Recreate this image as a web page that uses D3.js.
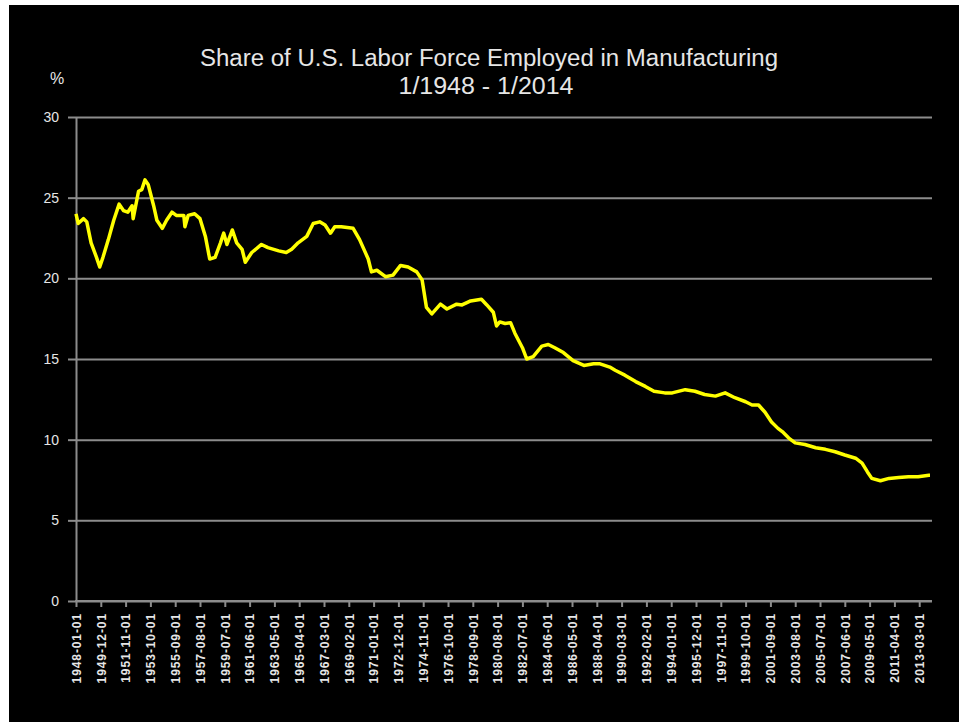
<!DOCTYPE html>
<html>
<head>
<meta charset="utf-8">
<script src="https://cdn.jsdelivr.net/npm/d3@7"></script>
<style>
  html, body { margin: 0; padding: 0; background: #ffffff; }
  svg { display: block; }
</style>
</head>
<body>
<script>
'use strict';

// months (yyyy-mm)
const months = [
  '1948-01','1948-03','1948-08','1948-11','1949-03','1949-08','1949-11','1950-02','1950-07','1950-12',
  '1951-05','1951-09','1952-01','1952-05','1952-06','1952-11','1953-02','1953-05','1953-08','1954-01',
  '1954-04','1954-09','1955-01','1955-06','1955-10','1956-05','1956-06','1956-09','1957-03','1957-08',
  '1958-01','1958-05','1958-10','1959-03','1959-06','1959-09','1960-02','1960-06','1960-11','1961-02',
  '1961-08','1962-05','1962-11','1963-09','1964-04','1964-09','1965-03','1965-11','1966-05','1966-11',
  '1967-04','1967-09','1968-01','1968-07','1969-06','1969-12','1970-08','1970-11','1971-04','1971-12',
  '1972-07','1973-02','1973-09','1974-05','1974-10','1975-02','1975-07','1976-03','1976-09','1977-06',
  '1977-11','1978-07','1979-05','1979-10','1980-04','1980-07','1980-10','1981-03','1981-08','1981-12',
  '1982-07','1982-11','1983-05','1984-01','1984-07','1985-01','1985-09','1986-06','1987-04','1988-01',
  '1988-07','1989-04','1989-09','1990-06','1991-04','1992-01','1992-09','1993-07','1994-02','1995-02',
  '1995-11','1996-08','1997-06','1998-03','1998-12','1999-10','2000-04','2000-10','2001-04','2001-10',
  '2002-04','2002-08','2003-02','2003-08','2004-05','2005-03','2005-12','2006-09','2007-06','2008-04',
  '2008-10','2009-03','2009-07','2010-03','2010-11','2011-08','2012-05','2013-02','2013-12','2014-01'
];

// share of labor force in manufacturing, %
const sharePct = [
  24.0, 23.4, 23.7, 23.5, 22.2, 21.3, 20.7, 21.3, 22.4, 23.6,
  24.6, 24.2, 24.1, 24.5, 23.7, 25.4, 25.5, 26.1, 25.8, 24.5,
  23.6, 23.1, 23.6, 24.1, 23.9, 23.9, 23.2, 23.9, 24.0, 23.7,
  22.6, 21.2, 21.3, 22.2, 22.8, 22.1, 23.0, 22.2, 21.8, 21.0,
  21.6, 22.1, 21.9, 21.7, 21.6, 21.8, 22.2, 22.6, 23.4, 23.5,
  23.3, 22.8, 23.2, 23.2, 23.1, 22.4, 21.2, 20.4, 20.5, 20.1,
  20.2, 20.8, 20.7, 20.4, 19.9, 18.2, 17.8, 18.4, 18.1, 18.4,
  18.35, 18.6, 18.7, 18.35, 17.9, 17.05, 17.3, 17.2, 17.25, 16.6,
  15.7, 15.0, 15.15, 15.8, 15.9, 15.7, 15.4, 14.9, 14.6, 14.7,
  14.7, 14.5, 14.3, 14.0, 13.6, 13.3, 13.0, 12.9, 12.9, 13.1,
  13.0, 12.8, 12.7, 12.9, 12.6, 12.35, 12.15, 12.15, 11.7, 11.1,
  10.7, 10.5, 10.1, 9.8, 9.7, 9.5, 9.4, 9.25, 9.05, 8.85,
  8.55, 8.0, 7.6, 7.45, 7.6, 7.65, 7.7, 7.7, 7.8, 7.8
];

const yTicks = [0, 5, 10, 15, 20, 25, 30];

const xTickLabels = [
  '1948-01-01','1949-12-01','1951-11-01','1953-10-01','1955-09-01','1957-08-01','1959-07-01',
  '1961-06-01','1963-05-01','1965-04-01','1967-03-01','1969-02-01','1971-01-01','1972-12-01',
  '1974-11-01','1976-10-01','1978-09-01','1980-08-01','1982-07-01','1984-06-01','1986-05-01',
  '1988-04-01','1990-03-01','1992-02-01','1994-01-01','1995-12-01','1997-11-01','1999-10-01',
  '2001-09-01','2003-08-01','2005-07-01','2007-06-01','2009-05-01','2011-04-01','2013-03-01'
];

const titleLines = ['Share of U.S. Labor Force Employed in Manufacturing', '1/1948 - 1/2014'];

(function() {

  let svgContainer = '';

  const msm = {
    width: 959,
    height: 722,
    plotLeft: 76,
    plotRight: 932,
    plotTop: 117,
    plotBottom: 601
  };

  const gridColor = '#8c8c8c';
  const textColor = '#e6e6e6';
  const font = "'Liberation Sans', Arial, sans-serif";

  // month count since 1948-01
  function monthIndex(s) {
    let parts = s.split('-');
    return (+parts[0] - 1948) * 12 + (+parts[1] - 1);
  }

  window.onload = function() {
    svgContainer = d3.select('body')
      .append('svg')
      .attr('width', msm.width)
      .attr('height', msm.height);

    // black panel (thin white margin on left/top like the screenshot)
    svgContainer.append('rect')
      .attr('x', 9).attr('y', 5)
      .attr('width', msm.width - 9).attr('height', msm.height - 5)
      .attr('fill', '#000000');

    let data = months.map((m, i) => ({ m: monthIndex(m), v: sharePct[i] }));

    let xScale = d3.scaleLinear()
      .domain([0, monthIndex('2014-01')])
      .range([msm.plotLeft, msm.plotRight - 2]);

    let yScale = d3.scaleLinear()
      .domain([0, 30])
      .range([msm.plotBottom, msm.plotTop]);

    drawAxes(xScale, yScale);
    plotLine(data, xScale, yScale);
    makeLabels();
  };

  function drawAxes(xScale, yScale) {
    let plotW = msm.plotRight - msm.plotLeft;

    // horizontal gridlines
    let grid = svgContainer.append('g')
      .attr('transform', 'translate(' + msm.plotLeft + ',0)')
      .call(d3.axisLeft(yScale).tickValues(yTicks).tickSize(-plotW).tickFormat(''));
    grid.select('.domain').remove();
    grid.selectAll('line').attr('stroke', gridColor).attr('stroke-width', 2);

    // y axis with labels
    let yAxis = svgContainer.append('g')
      .attr('transform', 'translate(' + msm.plotLeft + ',0)')
      .call(d3.axisLeft(yScale).tickValues(yTicks).tickSize(8).tickPadding(9).tickSizeOuter(0));
    yAxis.select('.domain').attr('stroke', gridColor).attr('stroke-width', 2);
    yAxis.selectAll('line').attr('stroke', gridColor).attr('stroke-width', 2);
    yAxis.selectAll('text')
      .attr('fill', textColor)
      .style('font-family', font)
      .style('font-size', '14px');

    // x axis: one tick every 23 months
    let tickIdx = xTickLabels.map((s) => monthIndex(s.slice(0, 7)));
    let xAxis = svgContainer.append('g')
      .attr('transform', 'translate(0,' + msm.plotBottom + ')')
      .call(d3.axisBottom(xScale)
        .tickValues(tickIdx)
        .tickSize(6)
        .tickSizeOuter(0)
        .tickFormat((d, i) => xTickLabels[i]));
    xAxis.select('.domain')
      .attr('d', 'M' + (msm.plotLeft - 1) + ',0H' + msm.plotRight)
      .attr('stroke', gridColor).attr('stroke-width', 2);
    xAxis.selectAll('line').attr('stroke', gridColor).attr('stroke-width', 2);
    xAxis.selectAll('text')
      .attr('transform', 'rotate(-90)')
      .attr('x', -12)
      .attr('y', 0)
      .attr('dy', '0.35em')
      .style('text-anchor', 'end')
      .attr('fill', textColor)
      .style('font-family', font)
      .style('font-size', '12px')
      .style('font-weight', 'bold')
      .style('letter-spacing', '0.9px');
  }

  function plotLine(data, xScale, yScale) {
    svgContainer.append('path')
      .datum(data)
      .attr('fill', 'none')
      .attr('stroke', '#ffff00')
      .attr('stroke-width', 3.5)
      .attr('stroke-linejoin', 'round')
      .attr('d', d3.line()
        .x((d) => xScale(d.m))
        .y((d) => yScale(d.v)));
  }

  function makeLabels() {
    svgContainer.append('text')
      .attr('x', 489)
      .attr('y', 66)
      .attr('text-anchor', 'middle')
      .attr('fill', textColor)
      .attr('textLength', 578)
      .attr('lengthAdjust', 'spacingAndGlyphs')
      .style('font-family', font)
      .style('font-size', '23px')
      .text(titleLines[0]);

    svgContainer.append('text')
      .attr('x', 486)
      .attr('y', 94)
      .attr('text-anchor', 'middle')
      .attr('fill', textColor)
      .attr('textLength', 175)
      .attr('lengthAdjust', 'spacingAndGlyphs')
      .style('font-family', font)
      .style('font-size', '23px')
      .text(titleLines[1]);

    svgContainer.append('text')
      .attr('x', 57)
      .attr('y', 84)
      .attr('text-anchor', 'middle')
      .attr('fill', textColor)
      .style('font-family', font)
      .style('font-size', '16px')
      .text('%');
  }

})();
</script>
</body>
</html>
